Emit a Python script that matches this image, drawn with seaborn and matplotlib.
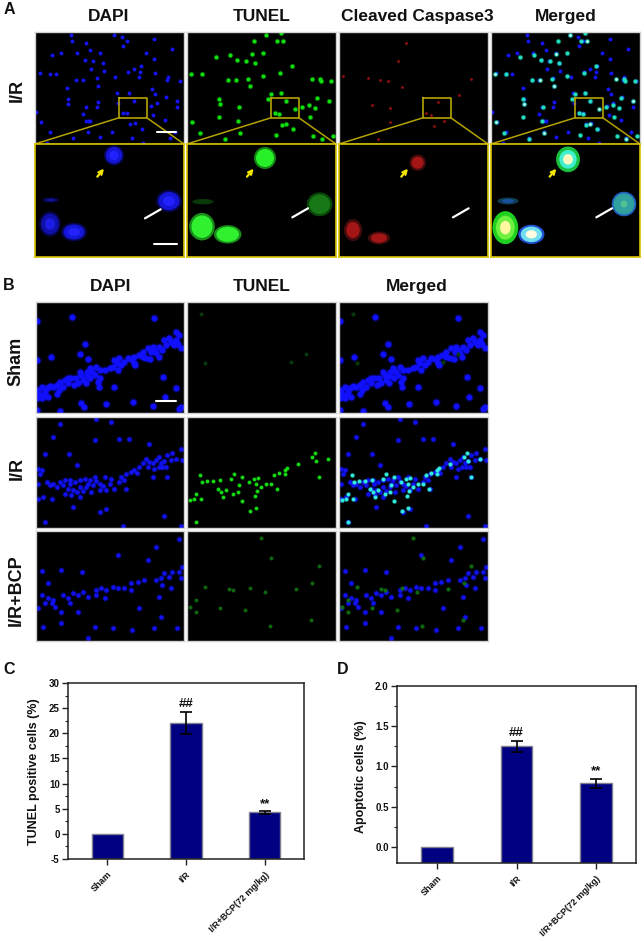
import numpy as np
import pandas as pd
import seaborn as sns
import matplotlib.pyplot as plt
from matplotlib.patches import Ellipse
from matplotlib.ticker import MultipleLocator

# bar chart values
groups = ['Sham', 'I/R', 'I/R+BCP(72 mg/kg)']
tunel_pos = [0, 22, 4.3]
tunel_err = [0, 2.2, 0.3]
apoptotic = [0, 1.25, 0.79]
apoptotic_err = [0, 0.07, 0.06]

# panel A dots, read at 3x zoom
a_dapi = [(212,105),(215,122),(258,130),(270,150),(342,105),(367,112),(380,122),(368,138),(463,118),(515,146),
          (183,158),(157,165),(232,160),(300,160),(255,180),(280,182),(310,188),(438,160),(463,178),(422,197),
          (120,218),(168,222),(150,222),(272,208),(312,212),(402,208),(385,215),(420,215),(465,218),(505,232),
          (500,240),(540,243),(228,240),(250,240),(290,235),(345,232),(418,232),(200,265),(295,257),(258,362),
          (268,362),(350,280),(388,278),(455,268),(465,283),(497,290),(205,297),(203,312),(293,307),(258,320),
          (292,322),(355,310),(402,302),(452,318),(470,310),(532,302),(530,320),(248,342),(368,340),(382,340),
          (122,365),(107,337),(270,362),(390,372),(405,370),(425,388),(458,345),(495,360),(150,397),(265,397),
          (300,412),(335,395),(218,415),(395,415),(510,415),(525,395),(430,428),(140,428)]
a_tunel = [(798,106),(843,99),(763,124),(832,124),(850,124),(690,165),(712,180),(738,182),(756,162),(790,158),
           (766,190),(650,170),(575,222),(606,222),(840,218),(878,198),(710,240),(685,240),(745,236),(790,228),
           (938,236),(960,236),(965,242),(993,244),(750,258),(815,282),(845,280),(657,298),(660,312),(717,322),
           (805,298),(858,304),(886,326),(908,320),(928,314),(952,294),(988,304),(825,338),(838,342),(930,350),
           (578,365),(658,350),(714,362),(846,375),(860,372),(880,388),(945,325),(600,400),(720,398),(676,417),
           (828,406),(940,408),(968,416),(1000,408)]
a_red = [(40,228),(127,314),(174,243),(152,240),(216,260),(324,306),(290,340),(304,344),(343,362),(313,378),
         (180,365),(182,324),(425,238),(388,285),(230,128),(205,183),(145,418),(115,235)]

# panel A zoomed cells: x, y, width, height in the panel
a_blobs_dapi = [(237,34,55,55),(47,168,50,15),(402,171,70,60),(45,240,60,70),(117,264,70,50)]
a_blobs_tunel = [(234,42,60,60),(48,173,60,15),(398,181,70,65),(45,248,70,75),(122,271,75,50)]
a_blobs_red = [(236,56,45,45),(42,258,50,60),(120,282,60,35)]
a_blobs_merged = [(231,46,65,70),(51,171,60,20),(399,180,70,70),(43,251,70,90),(121,271,75,55)]

# panel B dots, read at 3x zoom
sham_dapi = [(115,360),(125,350),(135,365),(150,347),(160,350),(172,372),(180,335),(195,330),(190,352),(215,325),
             (222,345),(235,340),(245,315),(262,318),(270,295),(290,292),(285,315),(300,325),(298,350),(240,305),
             (345,350),(345,270),(340,290),(360,265),(365,285),(385,265),(408,285),(405,262),(430,245),(445,235),
             (460,230),(440,265),(470,250),(490,240),(495,210),(510,205),(525,225),(530,185),(540,195),(545,235),
             (125,385),(145,380),(110,385),(205,340),(315,300),(355,300),(112,152),(217,142),(465,145),(255,222),
             (240,252),(152,260),(110,270),(265,268),(492,322),(530,355),(497,380),(400,395),(460,408),(318,402),
             (254,410),(245,398),(180,422),(540,418),(545,410),(112,420),
             (118,375),(130,375),(140,355),(170,345),(178,360),(205,325),(228,325),(250,330),(258,340),(272,325),
             (262,305),(278,305),(300,300),(295,335),(330,295),(352,280),(375,275),(395,268),(418,255),(430,262),
             (455,245),(465,240),(480,230),(500,225),(515,215),(530,210),(537,222),(452,268),(478,262),(405,278)]
sham_tunel = [(615,278),(875,275),(918,253),(605,132)]
ir_dapi = [(115,640),(120,610),(140,635),(150,645),(160,640),(180,635),(195,630),(210,628),(225,635),(240,630),
           (255,625),(270,630),(285,620),(300,640),(315,620),(330,640),(345,655),(205,655),(220,660),(240,650),
           (260,650),(280,645),(300,660),(320,660),(195,670),(215,675),(240,680),(275,665),(130,680),(155,685),
           (115,685),(365,620),(380,610),(360,635),(380,655),(405,600),(420,590),(440,565),(460,578),(480,560),
           (495,572),(505,555),(520,548),(545,537),(530,565),(490,590),(465,595),(445,590),(505,620),(460,620),
           (395,605),(550,570),(180,460),(335,455),(290,445),(160,500),(285,510),(360,505),(390,505),(450,522),
           (135,550),(208,550),(232,585),(220,710),(135,755),(495,738),(320,715),(300,725),(370,768),(545,768),
           (115,595),(125,600),
           (170,650),(190,645),(212,642),(232,665),(250,662),(265,640),(290,632),(310,648),(335,625),(375,630),
           (412,608),(430,578),(450,575),(470,568),(485,578),(515,570),(478,590),(500,590)]
ir_tunel = [(600,615),(607,635),(570,688),(582,685),(605,685),(590,672),(622,632),(640,632),(655,655),(663,665),
            (660,630),(680,660),(693,625),(703,612),(728,620),(718,645),(715,665),(700,672),(670,680),(727,692),
            (748,635),(762,625),(775,622),(770,640),(785,650),(800,640),(815,642),(772,662),(767,677),(750,722),
            (770,714),(822,615),(838,607),(855,600),(862,593),(855,612),(895,580),(945,548),(938,560),(950,573),
            (985,565),(958,620),(833,657),(590,755)]
bcp_dapi = [(115,1015),(125,975),(135,1000),(145,985),(160,990),(165,1010),(155,1000),(185,1025),(190,975),(205,985),
            (220,970),(235,975),(250,965),(265,980),(290,960),(305,955),(320,960),(340,950),(355,955),(375,955),
            (395,940),(415,935),(435,930),(470,930),(485,925),(495,910),(510,920),(490,945),(520,905),(540,905),
            (548,890),(515,955),(545,925),(315,985),(290,975),(210,1000),(395,960),(480,980),(355,855),(470,830),
            (445,870),(540,808),(248,905),(185,900),(125,902),(145,940),(420,1015),(485,1040),(235,1025),(185,1058),
            (130,1072),(285,1072),(265,1105),(340,1075),(398,1080),(465,1075),(535,1075)]
bcp_tunel = [(795,965),(888,957),(750,955),(700,960),(688,958),(937,940),(617,950),(783,803),(958,888),(590,990),
             (570,1010),(590,1025),(660,1015),(735,1020),(935,1050),(815,865),(810,1068)]

FIG_W, FIG_H = 644, 941
sns.set_theme(style='white')
plt.rcParams['font.family'] = ['Liberation Sans', 'DejaVu Sans']
plt.rcParams['font.weight'] = 'bold'

fig = plt.figure(figsize=(FIG_W / 100, FIG_H / 100), dpi=100, facecolor='white')


def make_ax(x0, y0, x1, y1):
    return fig.add_axes([x0 / FIG_W, 1 - y1 / FIG_H, (x1 - x0) / FIG_W, (y1 - y0) / FIG_H])


def micro_ax(x0, y0, x1, y1, edge='#d0d0d0', lw=1.0):
    ax = make_ax(x0, y0, x1, y1)
    ax.set_facecolor('black')
    ax.set_xlim(0, 447)
    ax.set_ylim((y1 - y0) * 3, 0)
    ax.set_xticks([])
    ax.set_yticks([])
    for s in ax.spines.values():
        s.set_color(edge)
        s.set_linewidth(lw)
    return ax


def dots(ax, pts, ox, oy, color, size=7, alpha=1.0):
    d = pd.DataFrame(pts, columns=['x', 'y'])
    d['x'] -= ox
    d['y'] -= oy
    # soft halo first, the picture is blurry
    sns.scatterplot(data=d, x='x', y='y', s=size * 2, color=color, alpha=0.3 * alpha, linewidth=0,
                    ax=ax, legend=False)
    sns.scatterplot(data=d, x='x', y='y', s=size, color=color, alpha=alpha, linewidth=0,
                    ax=ax, legend=False)
    ax.set_xlabel('')
    ax.set_ylabel('')


def blob(ax, cx, cy, w, h, layers):
    for scale, col, al in layers:
        ax.add_patch(Ellipse((cx, cy), w * scale, h * scale, facecolor=col, edgecolor='none', alpha=al))


def arrow(ax, start, end, color):
    ax.annotate('', xy=end, xytext=start,
                arrowprops=dict(arrowstyle='->' if color != 'white' else '-', color=color, lw=1.6,
                                mutation_scale=7, shrinkA=0, shrinkB=0))


# Panel A
xs_a = [(35, 184), (187, 336), (339, 488), (491, 640)]
box_color = '#b5a200'
for i, (x0, x1) in enumerate(xs_a):
    top = micro_ax(x0, 32, x1, 144)
    if i == 0:
        dots(top, a_dapi, 105, 96, '#1414ff', 6)
    elif i == 1:
        dots(top, a_tunel, 562, 96, '#10e010', 8)
    elif i == 2:
        dots(top, a_red, 28, 96, '#a01010', 3)
    else:
        dots(top, a_dapi, 105, 96, '#1414ff', 6)
        dots(top, a_tunel, 562, 96, '#20e0c0', 8)
        dots(top, a_tunel[::4], 562, 96, '#f0fff0', 2)
    # yellow inset box and the lines down to the zoomed panel
    top.plot([253, 335, 335, 253, 253], [199, 199, 257, 257, 199], color=box_color, lw=1.2)
    top.plot([253, 0], [257, 336], color=box_color, lw=1.1)
    top.plot([335, 447], [257, 336], color=box_color, lw=1.1)

    low = micro_ax(x0, 144, x1, 257, edge='#d8c400', lw=1.2)
    if i == 0:
        for (cx, cy, w, h), al in zip(a_blobs_dapi, [1, 0.35, 1, 0.7, 1]):
            blob(low, cx, cy, w, h, [(1.1, '#0a0a90', 0.6 * al), (0.9, '#1515d8', al), (0.5, '#2222ff', al)])
    elif i == 1:
        cols = [('#18a818', '#28f028'), ('#0a3a0a', '#0a3a0a'), ('#0a5a0a', '#187818'),
                ('#20b020', '#30f030'), ('#20b020', '#30f030')]
        for (cx, cy, w, h), (c1, c2) in zip(a_blobs_tunel, cols):
            blob(low, cx, cy, w, h, [(1.1, c1, 0.8), (0.9, c2, 1.0)])
    elif i == 2:
        for cx, cy, w, h in a_blobs_red:
            blob(low, cx, cy, w, h, [(1.1, '#601010', 0.7), (0.8, '#b01818', 0.9)])
    else:
        styles = [[(1.1, '#18c040', 1), (0.8, '#40f0d0', 1), (0.45, '#fff8c0', 1)],
                  [(1.05, '#103a50', 1), (0.6, '#1a50a0', 1)],
                  [(1.05, '#2060c0', 1), (0.9, '#30a0a0', 1), (0.3, '#50c090', 1)],
                  [(1.1, '#20d020', 1), (0.8, '#70f040', 1), (0.45, '#fff8a0', 1)],
                  [(1.05, '#2050d0', 1), (0.85, '#70e0f0', 1), (0.45, '#fffbe0', 1)]]
        for (cx, cy, w, h), st in zip(a_blobs_merged, styles):
            blob(low, cx, cy, w, h, st)
    yellow_starts = [(187, 98), (180, 98), (187, 98), (176, 98)]
    white_starts = [(330, 223), (316, 220), (342, 220), (316, 220)]
    sx, sy = yellow_starts[i]
    arrow(low, (sx, sy), (sx + 20, sy - 24), '#f5e600')
    wx, wy = white_starts[i]
    arrow(low, (wx, wy), (wx + 47, wy - 27), 'white')
    if i == 0:
        top.plot([365, 422], [299, 299], color='white', lw=1.5)
        low.plot([358, 425], [301, 301], color='white', lw=1.5)

# Panel B
xs_b = [(36, 184), (187, 336), (339, 488)]
ys_b = [(302, 413), (417, 528), (531, 641)]
rows = [(sham_dapi, sham_tunel, 96, '#1010ff', '#0a3a0a'),
        (ir_dapi, ir_tunel, 440, '#1010f0', '#14e014'),
        (bcp_dapi, bcp_tunel, 783, '#1010f0', '#0f6a0f')]
for (y0, y1), (blue, green, oy, bc, gc) in zip(ys_b, rows):
    a1 = micro_ax(xs_b[0][0], y0, xs_b[0][1], y1)
    dots(a1, blue, 108, oy, bc, 18 if oy == 96 else 10)
    a2 = micro_ax(xs_b[1][0], y0, xs_b[1][1], y1)
    dots(a2, green, 562, oy, gc, 6)
    a3 = micro_ax(xs_b[2][0], y0, xs_b[2][1], y1)
    dots(a3, blue, 108, oy, bc, 18 if oy == 96 else 10)
    dots(a3, green, 562, oy, '#30f0e0' if oy == 440 else gc, 7)
    if oy == 96:
        a1.plot([363, 422], [297, 297], color='white', lw=1.5)


def bar_panel(rect, values, errs, ylim, major, minor, fmt, marks):
    ax = make_ax(*rect)
    base = ylim[0]
    d = pd.DataFrame({'group': groups, 'value': np.array(values) - base})
    # bars rise from the bottom of the axis, as in the original
    sns.barplot(data=d, x='group', y='value', color='#000080', saturation=1, width=0.4,
                edgecolor='#7f7f8f', linewidth=1.0, bottom=base, ax=ax)
    ax.errorbar([1, 2], values[1:], yerr=errs[1:], fmt='none', ecolor='black', elinewidth=1.2,
                capsize=4.5, capthick=1.2)
    ax.set_xlim(-0.5, 2.5)
    ax.set_ylim(*ylim)
    ax.yaxis.set_major_locator(MultipleLocator(major))
    ax.yaxis.set_minor_locator(MultipleLocator(minor))
    ax.yaxis.set_major_formatter(fmt)
    ax.tick_params(axis='y', which='major', left=True, length=4, width=1, labelsize=7, pad=2, color='#222222')
    ax.tick_params(axis='y', which='minor', left=True, length=2, width=0.8, color='#222222')
    ax.tick_params(axis='x', which='major', bottom=True, length=4, width=1, labelsize=6.5, pad=4, color='#222222')
    ax.set_xlabel('')
    ax.set_ylabel('')
    ax.set_xticks([0, 1, 2])
    ax.set_xticklabels(groups, rotation=45, ha='right', rotation_mode='anchor', fontweight='bold', color='#111111')
    for t in ax.get_yticklabels():
        t.set_fontweight('bold')
        t.set_color('#111111')
    for s in ax.spines.values():
        s.set_color('#222222')
        s.set_linewidth(1.1)
    for x, y, txt in marks:
        ax.text(x, y, txt, ha='center', va='center', fontsize=9.5, fontweight='bold', color='#111111')
    return ax


bar_panel((68, 683, 304, 859), tunel_pos, tunel_err, (-5, 30), 5, 2.5,
          lambda v, p: f'{v:.0f}', [(1, 25.9, '##'), (2, 6.0, '**')])
bar_panel((397, 686, 636, 863), apoptotic, apoptotic_err, (-0.2, 2.0), 0.5, 0.25,
          lambda v, p: f'{v:.1f}', [(1, 1.42, '##'), (2, 0.94, '**')])


def label(x, y, txt, size, rot=0, va='center'):
    fig.text(x / FIG_W, 1 - y / FIG_H, txt, ha='center', va=va, fontsize=size, fontweight='bold',
             rotation=rot, color='#111111')


for x, txt in [(109, 'DAPI'), (262, 'TUNEL'), (417, 'Cleaved Caspase3'), (566, 'Merged')]:
    label(x, 21, txt, 12.5, va='baseline')
for x, txt in [(111, 'DAPI'), (262, 'TUNEL'), (417, 'Merged')]:
    label(x, 291, txt, 12.5, va='baseline')
label(17, 90, 'I/R', 13, 90)
label(16, 361, 'Sham', 13, 90)
label(17, 468, 'I/R', 13, 90)
label(16, 590, 'I/R+BCP', 13, 90)
label(9, 10, 'A', 11.5)
label(9, 285, 'B', 11.5)
label(9, 670, 'C', 11.5)
label(343, 670, 'D', 11.5)
label(34, 772, 'TUNEL positive cells (%)', 9, 90)
label(361, 777, 'Apoptotic cells (%)', 9, 90)

fig.savefig('out.png', dpi=100)
